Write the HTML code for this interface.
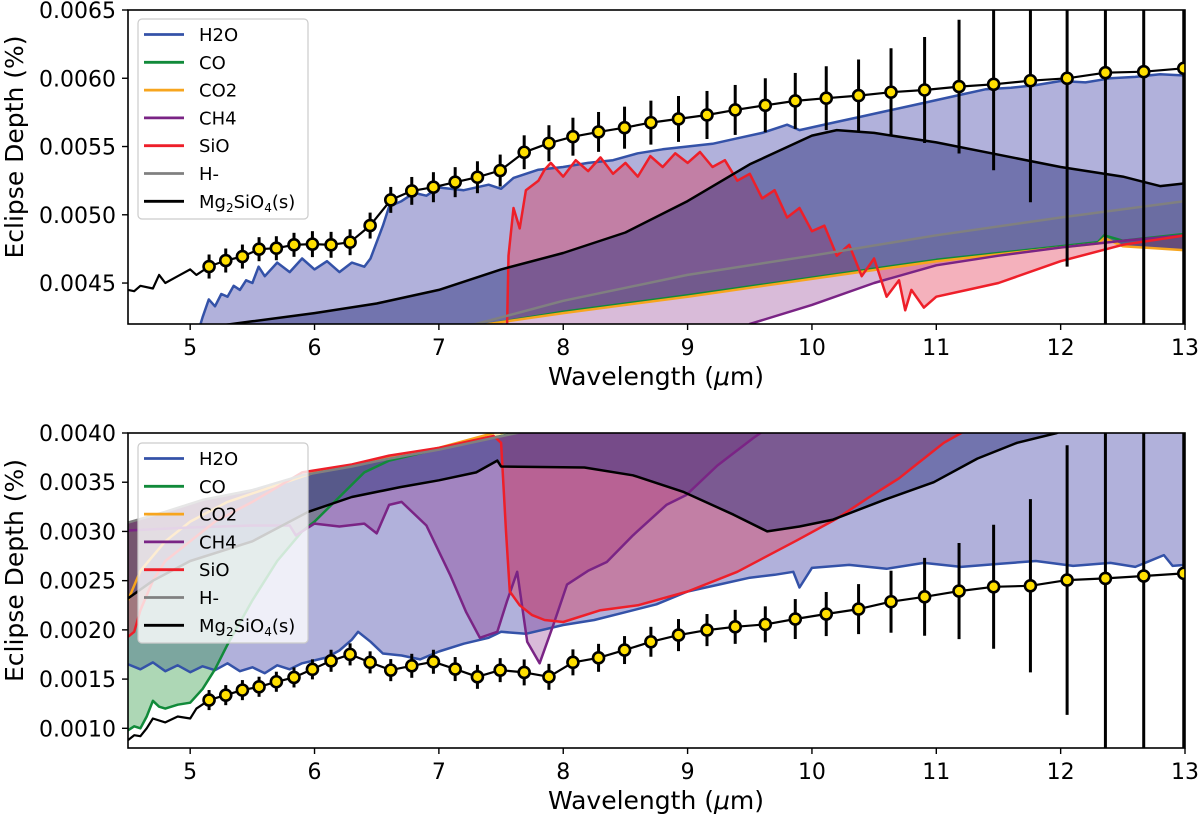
<!DOCTYPE html>
<html><head><meta charset="utf-8"><style>
html,body{margin:0;padding:0;background:#fff;overflow:hidden;}
svg{display:block;font-family:"DejaVu Sans","Liberation Sans",sans-serif;}
</style></head><body>
<svg id="chart" width="1200" height="820" viewBox="0 0 1200 820" xmlns="http://www.w3.org/2000/svg">
<defs>
<clipPath id="clipTop"><rect x="128" y="10" width="1057" height="314"/></clipPath>
<clipPath id="clipBot"><rect x="128" y="433" width="1057" height="315"/></clipPath>
</defs>
<g id="top"></g>
<g id="bot"></g>
</svg>
<script>
// ---------- shared data ----------
const dataLam=[5.152,5.286,5.420,5.554,5.693,5.835,5.983,6.133,6.286,6.447,6.613,6.782,6.956,7.131,7.310,7.493,7.686,7.885,8.078,8.284,8.493,8.705,8.927,9.156,9.383,9.625,9.866,10.115,10.375,10.636,10.906,11.183,11.461,11.757,12.052,12.360,12.668,12.990];
// ---------- top panel data ----------
const topObs=[0.004621,0.004665,0.004694,0.004748,0.004755,0.004780,0.004785,0.004780,0.004799,0.004921,0.005109,0.005175,0.005202,0.005239,0.005275,0.005324,0.005458,0.005524,0.005572,0.005607,0.005638,0.005675,0.005702,0.005731,0.005768,0.005802,0.005834,0.005854,0.005873,0.005898,0.005914,0.005939,0.005956,0.005982,0.006000,0.006041,0.006048,0.006073];
const topErr=[0.000088,0.000088,0.000088,0.000088,0.000088,0.000088,0.000095,0.000095,0.000095,0.000095,0.000095,0.000102,0.00011,0.00011,0.000117,0.000117,0.000124,0.000132,0.000139,0.000146,0.000154,0.000161,0.000168,0.000176,0.000183,0.000198,0.000205,0.000234,0.000264,0.000322,0.000388,0.00049,0.00063,0.00089,0.00138,0.0029,0.0033,0.0037];
const topFitLeadLam=[4.5,4.55,4.6,4.7,4.75,4.8,4.9,5.0,5.05];
const topFitLeadVal=[0.00445,0.00444,0.00448,0.00446,0.00456,0.00450,0.00455,0.00460,0.00456];
const topH2OLam=[5.05,5.1,5.15,5.2,5.25,5.3,5.35,5.4,5.45,5.5,5.55,5.6,5.7,5.8,5.9,6.0,6.1,6.2,6.3,6.4,6.45,6.5,6.55,6.6,6.7,6.8,6.9,7.0,7.2,7.4,7.5,7.6,7.8,8.0,8.2,8.4,8.6,8.8,9.0,9.2,9.4,9.6,9.8,9.9,10.0,10.2,10.4,10.6,10.8,11.0,11.2,11.4,11.6,11.8,12.0,12.2,12.4,12.6,12.8,13.0];
const topH2OVal=[0.0041,0.00425,0.00438,0.00433,0.00442,0.00440,0.00448,0.00445,0.00452,0.00450,0.00462,0.00455,0.00465,0.00458,0.00468,0.00460,0.00466,0.00458,0.00465,0.00462,0.00468,0.00480,0.00492,0.00506,0.00510,0.00516,0.00514,0.00520,0.00518,0.00522,0.00519,0.00527,0.00533,0.00535,0.00538,0.00540,0.00545,0.00548,0.00550,0.00552,0.00556,0.00560,0.00566,0.00562,0.00564,0.00568,0.00572,0.00576,0.00580,0.00584,0.00588,0.00592,0.00593,0.00595,0.00598,0.00597,0.00600,0.00601,0.00603,0.00602];
const topMgLam=[4.5,5.0,5.5,6.0,6.5,7.0,7.5,8.0,8.5,9.0,9.5,10.0,10.2,10.5,11.0,11.5,12.0,12.5,12.8,13.0];
const topMgVal=[0.00410,0.00416,0.00422,0.00428,0.00435,0.00445,0.00460,0.00472,0.00487,0.00510,0.00537,0.00558,0.00562,0.00560,0.00553,0.00544,0.00535,0.00528,0.00521,0.00523];
const topSiOLam=[7.54,7.56,7.6,7.65,7.7,7.8,7.85,7.9,8.0,8.1,8.2,8.3,8.4,8.5,8.6,8.7,8.8,8.9,9.0,9.1,9.2,9.3,9.4,9.5,9.6,9.7,9.8,9.9,10.0,10.1,10.2,10.3,10.4,10.5,10.6,10.7,10.75,10.8,10.9,11.0,11.25,11.5,12.0,12.5,13.0];
const topSiOVal=[0.0038,0.0047,0.00505,0.0049,0.00518,0.00525,0.00533,0.00538,0.00528,0.00540,0.00532,0.00542,0.00530,0.00538,0.00528,0.00543,0.00535,0.00545,0.00538,0.00546,0.00535,0.00540,0.00525,0.00530,0.00512,0.00518,0.00498,0.00505,0.00488,0.00492,0.00470,0.00478,0.00455,0.00468,0.00440,0.00452,0.00430,0.00445,0.00432,0.00440,0.00445,0.00450,0.00466,0.00478,0.00485];
const topCH4Lam=[7.4,8.5,9.2,9.5,10.0,10.5,11.0,11.5,12.0,12.5,13.0];
const topCH4Val=[0.0036,0.0037,0.0039,0.0042,0.00434,0.0045,0.00463,0.0047,0.00476,0.00481,0.00485];
const topCO2Lam=[4.5,7.4,8.0,9.0,10.0,11.0,12.0,12.3,12.35,12.5,13.0];
const topCO2Val=[0.0036,0.0042,0.00428,0.0044,0.00453,0.00466,0.00476,0.00479,0.00483,0.00477,0.00474];
const topCOLam=[4.5,7.4,8.0,9.0,10.0,11.0,12.0,12.3,12.35,12.5,13.0];
const topCOVal=[0.0036,0.0042,0.00429,0.00441,0.00454,0.00467,0.00477,0.00480,0.00485,0.00481,0.00486];
const topHmLam=[4.5,7.3,8.0,9.0,10.0,11.0,12.0,13.0];
const topHmVal=[0.0038,0.0042,0.00437,0.00456,0.0047,0.00485,0.00498,0.0051];
// ---------- bottom panel data ----------
const botObs=[0.001287,0.001337,0.001388,0.001422,0.001473,0.001517,0.001599,0.001686,0.001751,0.001670,0.001591,0.001635,0.001676,0.001602,0.001523,0.001591,0.001568,0.001523,0.001670,0.001716,0.001795,0.001879,0.001947,0.001998,0.002031,0.002056,0.002110,0.002161,0.002211,0.002286,0.002336,0.002394,0.002438,0.002448,0.002506,0.002523,0.002547,0.002574];
const botErr=[0.000102,0.000102,0.000102,0.000102,0.000102,0.000102,0.000102,0.000112,0.000112,0.000112,0.000112,0.000122,0.000122,0.000122,0.000122,0.000122,0.000132,0.000132,0.000132,0.000142,0.000142,0.000152,0.000163,0.000163,0.000173,0.000183,0.000203,0.000224,0.000254,0.000315,0.000396,0.000488,0.00063,0.00088,0.00137,0.0041,0.0046,0.0051];
const botFitLeadLam=[4.5,4.55,4.6,4.65,4.7,4.8,4.9,5.0,5.05];
const botFitLeadVal=[0.00088,0.00093,0.00092,0.00100,0.00110,0.00106,0.00112,0.00110,0.00120];
const botHmLam=[4.5,4.8,5.1,5.5,5.9,6.3,6.6,7.0,7.44,8.0,9.0,10.0,11.0,13.0];
const botHmVal=[0.00309,0.0032,0.00332,0.00342,0.00357,0.00366,0.00374,0.00383,0.00395,0.00410,0.0043,0.0045,0.0047,0.0050];
const botSiOLam=[4.5,4.55,4.6,4.7,4.8,5.0,5.2,5.5,5.9,6.3,6.6,7.0,7.44,7.5,7.54,7.57,7.65,7.75,7.85,8.0,8.3,8.6,9.0,9.4,9.88,10.2,10.45,10.7,10.85,11.06,11.2,11.5];
const botSiOVal=[0.00193,0.00198,0.0022,0.0025,0.0027,0.0029,0.0031,0.0033,0.0036,0.00368,0.00377,0.00385,0.00397,0.0039,0.0030,0.00239,0.00225,0.00215,0.0021,0.00208,0.0022,0.00225,0.00239,0.00259,0.00291,0.00313,0.00334,0.00354,0.00369,0.0039,0.0040,0.0043];
const botCO2Lam=[4.5,4.6,4.8,5.0,5.3,6.0,7.0,7.44,7.46,7.5,8.0,9.0];
const botCO2Val=[0.0023,0.0026,0.0029,0.0031,0.0033,0.0036,0.00385,0.0040,0.00412,0.0040,0.00415,0.0044];
const botCOLam=[4.5,4.55,4.6,4.65,4.7,4.75,4.8,4.9,5.0,5.1,5.2,5.3,5.5,5.7,5.9,6.0,6.2,6.4,6.6,7.0,8.0,9.0];
const botCOVal=[0.00098,0.00102,0.00100,0.00112,0.00128,0.00122,0.00120,0.00124,0.00126,0.0014,0.0016,0.00185,0.0023,0.0027,0.0030,0.0031,0.00335,0.0036,0.00372,0.00384,0.0041,0.0043];
const botH2OLam=[4.5,4.6,4.7,4.8,4.9,5.0,5.1,5.2,5.3,5.4,5.5,5.6,5.7,5.8,5.9,6.0,6.1,6.2,6.3,6.35,6.45,6.55,6.7,6.85,7.0,7.2,7.4,7.5,7.7,8.0,8.25,8.5,8.75,9.0,9.25,9.5,9.7,9.85,9.9,10.0,10.3,10.6,10.9,11.2,11.5,11.8,12.1,12.4,12.6,12.83,12.9,13.0];
const botH2OVal=[0.00165,0.00160,0.00167,0.00158,0.00164,0.00157,0.00163,0.00159,0.00166,0.00158,0.00162,0.00156,0.00164,0.00160,0.00166,0.00169,0.00172,0.00179,0.00190,0.00198,0.00188,0.00176,0.00174,0.00170,0.00178,0.00186,0.00192,0.00198,0.00196,0.00205,0.00210,0.00218,0.00226,0.00239,0.00246,0.00253,0.00256,0.00259,0.00243,0.00263,0.00266,0.00262,0.00268,0.00264,0.00267,0.00270,0.00265,0.00268,0.00264,0.00276,0.00265,0.00266];
const botCH4Lam=[4.5,5.0,5.5,5.8,5.85,5.9,6.0,6.2,6.4,6.5,6.6,6.7,6.9,7.09,7.22,7.33,7.47,7.55,7.63,7.71,7.81,7.92,8.03,8.2,8.35,8.56,8.83,8.99,9.24,9.53,9.7,10.0];
const botCH4Val=[0.00301,0.00304,0.00306,0.00306,0.00296,0.00300,0.00308,0.00305,0.00308,0.00298,0.00327,0.0033,0.00306,0.00256,0.00218,0.00192,0.00198,0.0023,0.00259,0.00188,0.00166,0.00205,0.00246,0.0026,0.00269,0.00296,0.00327,0.00337,0.00367,0.00395,0.0041,0.0043];
const botMgLam=[4.5,4.7,5.0,5.5,5.95,6.3,6.69,7.0,7.3,7.47,7.5,8.17,8.56,8.97,9.37,9.64,9.9,10.17,10.58,10.98,11.33,11.65,11.97,12.5];
const botMgVal=[0.00232,0.0025,0.0027,0.0029,0.0032,0.00335,0.00345,0.00352,0.0036,0.00372,0.00366,0.00365,0.00357,0.0034,0.00317,0.0030,0.00305,0.00312,0.00332,0.0035,0.00374,0.0039,0.0040,0.0043];
const xTicks=[5,6,7,8,9,10,11,12,13];
const topYTicks=[0.0045,0.0050,0.0055,0.0060,0.0065];
const topYLabels=["0.0045","0.0050","0.0055","0.0060","0.0065"];
const botYTicks=[0.0010,0.0015,0.0020,0.0025,0.0030,0.0035,0.0040];
const botYLabels=["0.0010","0.0015","0.0020","0.0025","0.0030","0.0035","0.0040"];
const legendNames=["H2O","CO","CO2","CH4","SiO","H-","Mg2SiO4(s)"];

const NS="http://www.w3.org/2000/svg";
const COL={H2O:"#3452a8",CO:"#118a3a",CO2:"#f7a51e",CH4:"#7a2485",SiO:"#ee1f29",Hm:"#808080",Mg:"#000"};
const FILL={H2O:"rgba(70,70,170,0.42)",CO:"rgba(40,150,60,0.38)",CO2:"rgba(255,165,0,0.28)",CH4:"rgba(130,30,130,0.30)",SiO:"rgba(225,40,70,0.36)",Hm:"rgba(128,128,128,0.25)",Mg:"rgba(45,50,125,0.48)"};
const X0=128,X1=1185,L0=4.5,L1=13;
function X(l){return X0+(l-L0)*(X1-X0)/(L1-L0);}
function mk(tag,attrs,parent){const e=document.createElementNS(NS,tag);for(const k in attrs)e.setAttribute(k,attrs[k]);parent.appendChild(e);return e;}
function interp(L,V,l){if(l<=L[0])return V[0];const n=Math.min(L.length,V.length);if(l>=L[n-1])return V[n-1];for(let i=1;i<n;i++){if(l<=L[i]){const t=(l-L[i-1])/(L[i]-L[i-1]);return V[i-1]+t*(V[i]-V[i-1]);}}return V[n-1];}
function pathOf(L,V,Y){const n=Math.min(L.length,V.length);let d="";for(let i=0;i<n;i++)d+=(i?"L":"M")+X(L[i]).toFixed(1)+","+Y(V[i]).toFixed(1);return d;}
function fillPath(LA,VA,LB,VB,Y){const lo=Math.max(LA[0],LB[0]),hi=Math.min(LA[Math.min(LA.length,VA.length)-1],LB[Math.min(LB.length,VB.length)-1]);
 const g=[...new Set([lo,hi,...LA.filter(l=>l>lo&&l<hi),...LB.filter(l=>l>lo&&l<hi)])].sort((a,b)=>a-b);
 let d="";g.forEach((l,i)=>{d+=(i?"L":"M")+X(l).toFixed(1)+","+Y(interp(LA,VA,l)).toFixed(1);});
 for(let i=g.length-1;i>=0;i--)d+="L"+X(g[i]).toFixed(1)+","+Y(interp(LB,VB,g[i])).toFixed(1);return d+"Z";}

function panel(root,cfg){
 const Y=cfg.Y;
 const clampY=y=>Math.max(cfg.yTop,Math.min(cfg.yBot,y));
 const plot=mk("g",{"clip-path":"url(#"+cfg.clip+")"},root);
 
 
 cfg.series.forEach(s=>{const p=mk("path",{d:fillPath(s.L,s.V,cfg.baseL,cfg.baseV,Y),fill:FILL[s.k],stroke:"none"},plot);
  
  });
 cfg.series.forEach(s=>{const p=mk("path",{d:pathOf(s.L,s.V,Y),fill:"none",stroke:COL[s.k],"stroke-width":2.5,"stroke-linejoin":"round"},plot);
  
  });
 const fL=cfg.leadL.concat(dataLam),fV=cfg.leadV.concat(cfg.obs);
 const fit=mk("path",{d:pathOf(fL,fV,Y),fill:"none",stroke:"#000","stroke-width":2.2,"stroke-linejoin":"round"},plot);
 
 
 dataLam.forEach((l,i)=>{const v=cfg.obs[i],e=cfg.err[i];
  const b=mk("line",{x1:X(l),x2:X(l),y1:clampY(Y(v+e)),y2:clampY(Y(v-e)),stroke:"#000","stroke-width":3},plot);
  
  });
 dataLam.forEach((l,i)=>{const c=mk("circle",{cx:X(l),cy:Y(cfg.obs[i]),r:5.5,fill:"#ffdf00",stroke:"#000","stroke-width":2.6},plot);
  
  });
 const fr=mk("rect",{x:X0,y:cfg.yTop,width:X1-X0,height:cfg.yBot-cfg.yTop,fill:"none",stroke:"#000","stroke-width":1.6},root);
 
 
 xTicks.forEach(t=>{const x=X(t);mk("line",{x1:x,x2:x,y1:cfg.yBot,y2:cfg.yBot+6,stroke:"#000","stroke-width":1.4},root);
  const tx=mk("text",{x:x,y:cfg.yBot+31,"font-size":22,"text-anchor":"middle",fill:"#000"},root);tx.textContent=t;
  
  });
 cfg.yt.forEach((t,i)=>{const y=Y(t);mk("line",{x1:X0-6,x2:X0,y1:y,y2:y,stroke:"#000","stroke-width":1.4},root);
  const tx=mk("text",{x:X0-12,y:y+8,"font-size":22,"text-anchor":"end",fill:"#000"},root);tx.textContent=cfg.yl[i];
  
  });
 const xl=mk("text",{x:656,y:cfg.yBot+61,"font-size":25,"text-anchor":"middle",fill:"#000"},root);
 xl.innerHTML='Wavelength (<tspan font-style="italic">μ</tspan>m)';
 
 
 const yc=(cfg.yTop+cfg.yBot)/2-20;
 const yl=mk("text",{x:0,y:0,"font-size":25,"text-anchor":"middle",fill:"#000",transform:"translate(23,"+yc+") rotate(-90)"},root);
 yl.textContent="Eclipse Depth (%)";
 
 
 const lg=mk("g",{},root);
 
 
 mk("rect",{x:138,y:cfg.legY,width:170,height:200,rx:4,fill:"rgba(255,255,255,0.8)",stroke:"#ccc","stroke-width":1.2},lg);
 const keys=["H2O","CO","CO2","CH4","SiO","Hm","Mg"];
 legendNames.forEach((nm,i)=>{const cy=cfg.legY+15.5+i*27.8;
  const ln=mk("line",{x1:144,x2:184,y1:cy,y2:cy,stroke:COL[keys[i]],"stroke-width":2.8},lg);
  
  
  const tx=mk("text",{x:199,y:cy+6.5,"font-size":18,fill:"#000"},lg);
  if(nm==="Mg2SiO4(s)")tx.innerHTML='Mg<tspan font-size="12" dy="4">2</tspan><tspan dy="-4">SiO</tspan><tspan font-size="12" dy="4">4</tspan><tspan dy="-4">(s)</tspan>';
  else tx.textContent=nm;
  
  });
}
panel(document.getElementById("top"),{clip:"clipTop",yTop:10,yBot:324,legY:19,
 Y:v=>10+(0.0065-v)/0.0023*314,
 baseL:topCO2Lam,baseV:topCO2Val,
 series:[{k:"H2O",L:topH2OLam,V:topH2OVal},{k:"CO",L:topCOLam,V:topCOVal},{k:"CO2",L:topCO2Lam,V:topCO2Val},{k:"CH4",L:topCH4Lam,V:topCH4Val},{k:"SiO",L:topSiOLam,V:topSiOVal},{k:"Hm",L:topHmLam,V:topHmVal},{k:"Mg",L:topMgLam,V:topMgVal}],
 obs:topObs,err:topErr,leadL:topFitLeadLam,leadV:topFitLeadVal,yt:topYTicks,yl:topYLabels});
panel(document.getElementById("bot"),{clip:"clipBot",yTop:433,yBot:748,legY:443,
 Y:v=>433+(0.0040-v)/0.0032*315,
 baseL:botHmLam,baseV:botHmVal,
 series:[{k:"H2O",L:botH2OLam,V:botH2OVal},{k:"CO",L:botCOLam,V:botCOVal},{k:"CO2",L:botCO2Lam,V:botCO2Val},{k:"CH4",L:botCH4Lam,V:botCH4Val},{k:"SiO",L:botSiOLam,V:botSiOVal},{k:"Hm",L:botHmLam,V:botHmVal},{k:"Mg",L:botMgLam,V:botMgVal}],
 obs:botObs,err:botErr,leadL:botFitLeadLam,leadV:botFitLeadVal,yt:botYTicks,yl:botYLabels});
</script>
</body></html>
